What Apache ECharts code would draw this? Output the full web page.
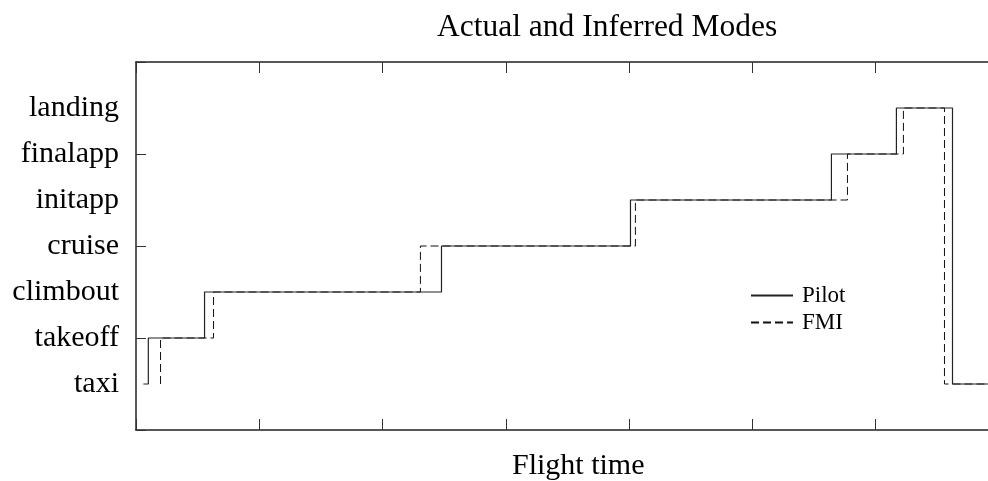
<!DOCTYPE html>
<html>
<head>
<meta charset="utf-8">
<script src="https://cdn.jsdelivr.net/npm/echarts@6/dist/echarts.min.js"></script>
<style>
  html, body { margin: 0; padding: 0; background: #fff; }
  #chart { width: 988px; height: 481px; }
</style>
</head>
<body>
<div id="chart"></div>
<script>
// mode names, bottom to top
var modes = ['taxi', 'takeoff', 'climbout', 'cruise', 'initapp', 'finalapp', 'landing']

// time at which each mode begins (tick spacing = 1 unit)
var pilotTimes = [0.06, 0.10, 0.556, 2.478, 4.011, 5.641, 6.168, 6.623, 6.911]
var pilotModes = ['taxi', 'takeoff', 'climbout', 'cruise', 'initapp', 'finalapp', 'landing', 'taxi', 'taxi']

var fmiTimes = [0.199, 0.199, 0.629, 2.307, 4.051, 5.771, 6.225, 6.558, 6.911]
var fmiModes = ['taxi', 'takeoff', 'climbout', 'cruise', 'initapp', 'finalapp', 'landing', 'taxi', 'taxi']

var xMax = 6.911
var font = 'Liberation Serif, Times New Roman, serif'

function toPoints (times, names) {
  return times.map(function (t, i) {
    return [t, modes.indexOf(names[i]) + 1]
  })
}

var myChart = echarts.init(document.getElementById('chart'))

var xAxisBase = {
  type: 'value',
  min: 0,
  max: xMax,
  interval: 1,
  axisLine: { show: true, lineStyle: { color: '#222', width: 1.5 } },
  axisTick: { show: true, inside: true, length: 11, lineStyle: { color: '#333', width: 1 } },
  axisLabel: { show: false },
  splitLine: { show: false }
}

var option = {
  animation: false,
  backgroundColor: '#fff',
  title: [
    {
      text: 'Actual and Inferred Modes',
      left: 432,
      top: 7,
      textStyle: { fontFamily: font, fontSize: 31.5, fontWeight: 'normal', color: '#000' }
    },
    {
      text: 'Flight time',
      left: 507,
      top: 446,
      textStyle: { fontFamily: font, fontSize: 30, fontWeight: 'normal', color: '#000' }
    }
  ],
  legend: {
    orient: 'vertical',
    left: 745,
    top: 279,
    itemWidth: 42,
    itemHeight: 14,
    itemGap: 4,
    itemStyle: { opacity: 0 },
    textStyle: { fontFamily: font, fontSize: 23, color: '#000', padding: [0, 0, 0, 4] },
    data: ['Pilot', 'FMI']
  },
  grid: {
    left: 136,
    right: 0,
    top: 62,
    bottom: 51
  },
  xAxis: [
    Object.assign({}, xAxisBase, { position: 'bottom' }),
    Object.assign({}, xAxisBase, { position: 'top' })
  ],
  yAxis: {
    type: 'value',
    min: 0,
    max: 8,
    interval: 2,
    axisLine: { show: true, lineStyle: { color: '#222', width: 1.5 } },
    axisTick: {
      show: true,
      inside: true,
      length: 10,
      customValues: [0, 2, 4, 6, 8],
      lineStyle: { color: '#333', width: 1 }
    },
    axisLabel: {
      show: true,
      margin: 17,
      customValues: [1, 2, 3, 4, 5, 6, 7],
      fontFamily: font,
      fontSize: 30,
      color: '#000',
      formatter: function (v) {
        return modes[v - 1] || ''
      }
    },
    splitLine: { show: false }
  },
  series: [
    {
      name: 'FMI',
      type: 'line',
      step: 'end',
      symbol: 'none',
      xAxisIndex: 0,
      lineStyle: { color: '#111', width: 1, type: [8, 4] },
      itemStyle: { color: '#111' },
      data: toPoints(fmiTimes, fmiModes)
    },
    {
      name: 'Pilot',
      type: 'line',
      step: 'end',
      symbol: 'none',
      xAxisIndex: 0,
      lineStyle: { color: '#222', width: 1.2 },
      itemStyle: { color: '#222' },
      data: toPoints(pilotTimes, pilotModes)
    }
  ]
}

myChart.setOption(option)
</script>
</body>
</html>
